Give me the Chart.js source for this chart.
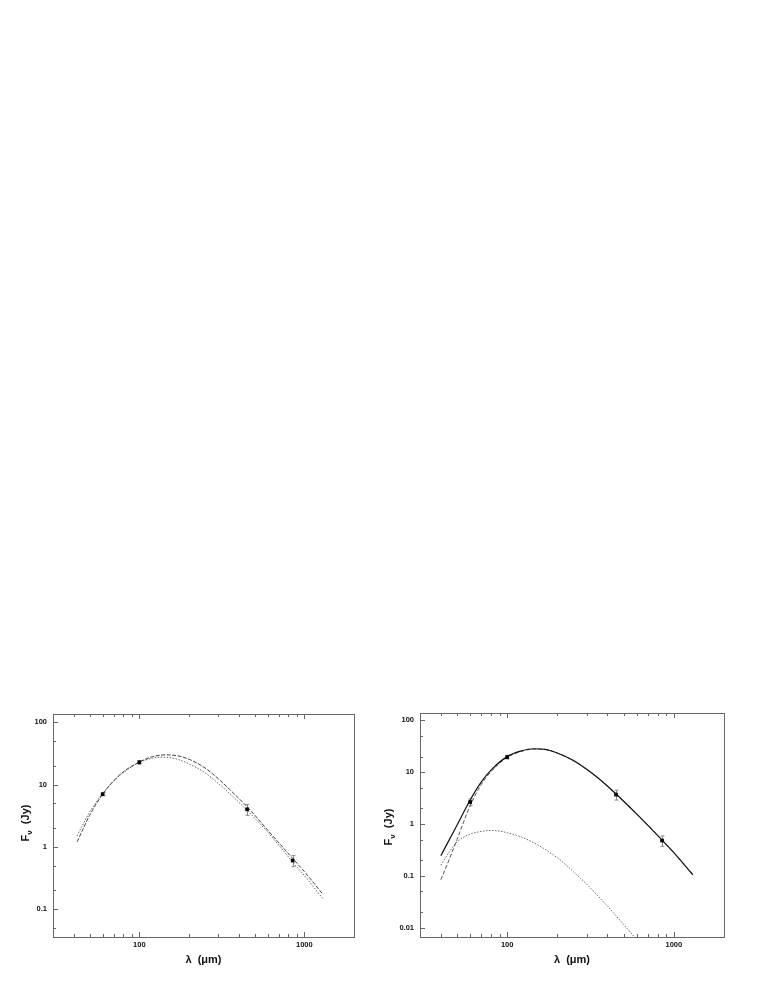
<!DOCTYPE html>
<html><head><meta charset="utf-8">
<script src="https://cdn.jsdelivr.net/npm/chart.js@4/dist/chart.umd.min.js"></script>
<style>
html,body{margin:0;padding:0;background:#fff;width:763px;height:987px;overflow:hidden;}
.wrap{position:absolute;top:700px;height:287px;}
#w1{left:0;width:380px;}
#w2{left:380px;width:383px;}
canvas{display:block;}
</style></head><body>
<div class="wrap" id="w1"><canvas id="c1" width="380" height="287"></canvas></div>
<div class="wrap" id="w2"><canvas id="c2" width="383" height="287"></canvas></div>
<script>
// ---------- data ----------
const obsWave = [60, 100, 450, 850];
const leftFlux = [7.0, 22.8, 4.0, 0.60];
const leftErr = [0.4, 1.5, 0.8, 0.12];
const rightFlux = [2.66, 19.6, 3.7, 0.48];
const rightErr = [0.4, 1.6, 0.8, 0.11];

const leftWaveA = [42, 45, 50, 60, 70, 80, 100, 120, 145, 170, 200, 250, 300, 350, 450, 600, 850, 1000, 1300];
const leftModelA = [1.2, 1.78, 3.2, 7.0, 11.5, 16, 23, 28, 30, 29, 25.5, 18.5, 12.5, 8.5, 4.4, 1.85, 0.65, 0.40, 0.17];
const leftWaveB = [42, 45, 50, 60, 70, 80, 100, 120, 135, 150, 170, 200, 250, 300, 350, 450, 600, 850, 1000, 1300];
const leftModelB = [1.5, 2.15, 3.6, 7.2, 11.4, 15.5, 22.6, 26.5, 27.5, 27.2, 25.5, 21.5, 15.5, 10.5, 7.3, 3.85, 1.72, 0.57, 0.345, 0.145];

const rightWave = [40, 45, 50, 60, 70, 80, 100, 120, 145, 170, 200, 250, 300, 350, 450, 600, 850, 1000, 1300];
const rightTotal = [0.244, 0.5, 0.95, 2.9, 6.5, 11, 20, 25.5, 28.4, 27.7, 23.5, 16.8, 11.4, 7.8, 3.8, 1.55, 0.49, 0.28, 0.105];
const rightCold = [0.084, 0.21, 0.5, 2.26, 5.8, 10.25, 19.3, 24.9, 28.0, 27.3, 23.3, 16.7, 11.3, 7.76, 3.79, 1.545, 0.49, 0.28, 0.105];
const rightWarmWave = [40, 45, 50, 60, 70, 80, 90, 100, 120, 150, 200, 250, 300, 350, 400, 500, 600, 700];
const rightWarm = [0.16, 0.29, 0.45, 0.64, 0.72, 0.75, 0.73, 0.68, 0.57, 0.408, 0.223, 0.12, 0.069, 0.041, 0.026, 0.0115, 0.0058, 0.0032];

const xTickLabels = [100, 1000];
const xMinorTicks = [40, 50, 60, 70, 80, 90, 200, 300, 400, 500, 600, 700, 800, 900];
const leftYTicks = [0.1, 1, 10, 100];
const rightYTicks = [0.01, 0.1, 1, 10, 100];
const yMinorMult = [2, 5];

const xTitle = 'λ  (μm)';
const yTitleMain = 'F';
const yTitleSub = 'ν';
const yTitleUnit = '  (Jy)';

// ---------- helpers ----------
const pts = (xs, ys) => xs.map((v, i) => ({x: v, y: ys[i]}));

function boxPlugin(yTicks, titleX, titleY, errs, fluxes) {
  return {
    id: 'box',
    beforeDatasetsDraw(chart) {
      const {ctx, scales: {x, y}} = chart;
      ctx.save();
      ctx.strokeStyle = '#8a8a8a';
      ctx.lineWidth = 1;
      obsWave.forEach((w, i) => {
        const px = Math.round(x.getPixelForValue(w)) + 0.5;
        const y1 = y.getPixelForValue(fluxes[i] + errs[i]);
        const y2 = y.getPixelForValue(fluxes[i] - errs[i]);
        ctx.beginPath();
        ctx.moveTo(px, y1); ctx.lineTo(px, y2);
        ctx.moveTo(px - 2, y1); ctx.lineTo(px + 2, y1);
        ctx.moveTo(px - 2, y2); ctx.lineTo(px + 2, y2);
        ctx.stroke();
      });
      ctx.restore();
    },
    afterDraw(chart) {
      const {ctx, chartArea: a, scales: {x, y}} = chart;
      ctx.save();
      ctx.strokeStyle = '#666';
      ctx.lineWidth = 1;
      ctx.strokeRect(Math.round(a.left) + 0.5, Math.round(a.top) + 0.5,
                     Math.round(a.right - a.left), Math.round(a.bottom - a.top));
      ctx.beginPath();
      const xt = (v, len) => {
        const px = Math.round(x.getPixelForValue(v)) + 0.5;
        ctx.moveTo(px, a.top); ctx.lineTo(px, a.top + len);
        ctx.moveTo(px, a.bottom); ctx.lineTo(px, a.bottom - len);
      };
      xTickLabels.forEach(v => xt(v, 5));
      xMinorTicks.forEach(v => xt(v, 3));
      const yt = (v, len) => {
        if (v < y.min || v > y.max) return;
        const py = Math.round(y.getPixelForValue(v)) + 0.5;
        ctx.moveTo(a.left, py); ctx.lineTo(a.left + len, py);
      };
      yTicks.forEach(v => {
        yt(v, 5);
        yMinorMult.forEach(m => { yt(v * m, 3); yt(v / 10 * m, 3); });
      });
      ctx.stroke();
      ctx.translate(titleX, titleY);
      ctx.rotate(-Math.PI / 2);
      ctx.fillStyle = '#111';
      ctx.textBaseline = 'alphabetic';
      const fMain = 'bold 11px "Liberation Sans", Arial, sans-serif';
      const fSub = 'bold 8px "Liberation Sans", Arial, sans-serif';
      ctx.font = fMain;
      const w1 = ctx.measureText(yTitleMain).width;
      const w3 = ctx.measureText(yTitleUnit).width;
      ctx.font = fSub;
      const w2 = ctx.measureText(yTitleSub).width;
      const total = w1 + w2 + w3;
      let cx = -total / 2;
      ctx.font = fMain;
      ctx.fillText(yTitleMain, cx, 4); cx += w1;
      ctx.font = fSub;
      ctx.fillText(yTitleSub, cx, 7); cx += w2;
      ctx.font = fMain;
      ctx.fillText(yTitleUnit, cx, 4);
      ctx.restore();
    }
  };
}

function makeChart(id, datasets, yMin, yMax, yTicks, pad, yWidth, titlePos, errs, fluxes) {
  return new Chart(document.getElementById(id), {
    type: 'line',
    data: {datasets},
    options: {
      responsive: false,
      animation: false,
      events: [],
      layout: {padding: pad},
      plugins: {legend: {display: false}, tooltip: {enabled: false}},
      elements: {point: {radius: 0}, line: {cubicInterpolationMode: 'monotone', borderWidth: 1}},
      scales: {
        x: {
          type: 'logarithmic', min: 30, max: 2000,
          afterBuildTicks: s => { s.ticks = xTickLabels.map(v => ({value: v})); },
          afterFit: s => { s.height = 50; },
          grid: {display: false, drawTicks: false},
          border: {display: false},
          ticks: {
            autoSkip: false, maxRotation: 0, padding: 3, color: '#111',
            font: {family: '"Liberation Sans", Arial, sans-serif', size: 7.5, weight: 'bold'},
            callback: v => String(v)
          },
          title: {
            display: true, text: xTitle, color: '#111',
            font: {family: '"Liberation Sans", Arial, sans-serif', size: 11, weight: 'bold'},
            padding: {top: 0, bottom: 20}
          }
        },
        y: {
          type: 'logarithmic', min: yMin, max: yMax,
          afterBuildTicks: s => { s.ticks = yTicks.map(v => ({value: v})); },
          afterFit: s => { s.width = yWidth; },
          grid: {display: false, drawTicks: false},
          border: {display: false},
          ticks: {
            autoSkip: false, padding: 6, color: '#111',
            font: {family: '"Liberation Sans", Arial, sans-serif', size: 7.5, weight: 'bold'},
            callback: v => String(v)
          }
        }
      }
    },
    plugins: [boxPlugin(yTicks, titlePos[0], titlePos[1], errs, fluxes)]
  });
}

const pointDs = (fl) => ({
  data: pts(obsWave, fl), showLine: false, pointStyle: 'rect',
  pointRadius: 2.6, pointBackgroundColor: '#000', pointBorderColor: '#000', pointBorderWidth: 0
});

makeChart('c1', [
  pointDs(leftFlux),
  {data: pts(leftWaveA, leftModelA), borderColor: '#444', borderWidth: 1, borderDash: [4, 1.5], fill: false},
  {data: pts(leftWaveB, leftModelB), borderColor: '#666', borderWidth: 1, borderDash: [1.5, 1.5], fill: false}
], 0.0355, 136, leftYTicks, {left: 13, right: 26, top: 14, bottom: 0}, 40, [25, 123], leftErr, leftFlux);

makeChart('c2', [
  pointDs(rightFlux),
  {data: pts(rightWave, rightTotal), borderColor: '#111', borderWidth: 1.2, fill: false},
  {data: pts(rightWave, rightCold), borderColor: '#555', borderWidth: 1, borderDash: [4, 2], fill: false},
  {data: pts(rightWarmWave, rightWarm), borderColor: '#666', borderWidth: 1, borderDash: [1.5, 1.5], fill: false}
], 0.0066, 139, rightYTicks, {left: 10, right: 39, top: 13, bottom: 0}, 30, [8, 127], rightErr, rightFlux);
</script>
</body></html>
